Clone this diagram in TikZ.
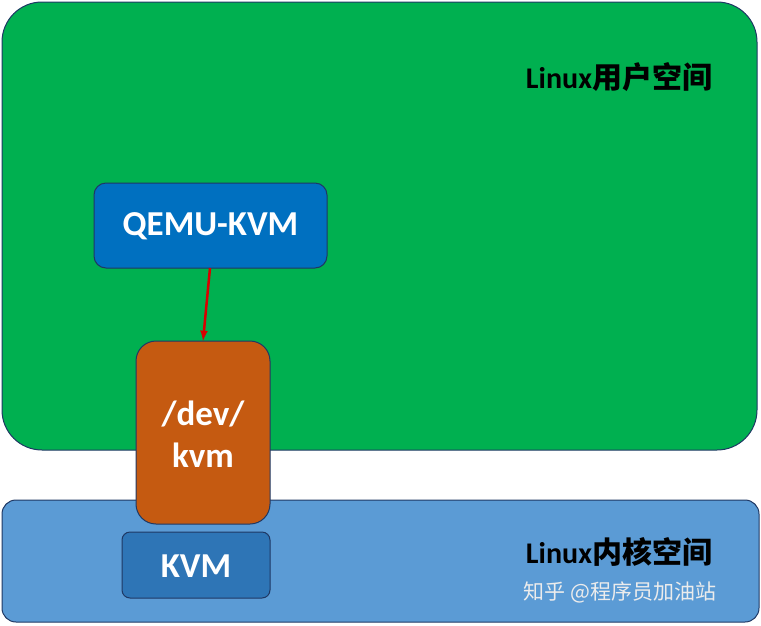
\documentclass[tikz,border=0pt]{standalone}
\usepackage{fontspec}
\setmainfont{Carlito}
\newfontfamily\cjk{Noto Sans CJK SC}
\usetikzlibrary{positioning}
\definecolor{usergreen}{HTML}{00B050}
\definecolor{kernblue}{HTML}{5B9BD5}
\definecolor{qemublue}{HTML}{0070C0}
\definecolor{devorange}{HTML}{C55A11}
\definecolor{kvmblue}{HTML}{2E75B6}
\definecolor{edgeblue}{HTML}{1F3864}
\tikzset{
  box/.style={draw=edgeblue, line width=1pt},
  lbl/.style={font=\bfseries\fontsize{35}{42}\selectfont, text=white, align=center},
  area/.style={font=\bfseries\fontsize{30}{34}\selectfont},
}
\begin{document}
\begin{tikzpicture}[x=1pt,y=-1pt]
    \useasboundingbox (0,0) rectangle (761,625);
    % spaces
    \filldraw[box, fill=usergreen, rounded corners=40pt] (2,2) rectangle (757,450);
    \filldraw[box, fill=kernblue, rounded corners=14pt] (2,500) rectangle (759,622);
    \node[area] (user) at (619,77) {Linux{\cjk 用户空间}};
    \node[area] (kern) at (619,552) {Linux{\cjk 内核空间}};
    % boxes
    \filldraw[box, fill=qemublue, rounded corners=12pt] (94,183) rectangle (327,268);
    \node[lbl] (qemu) at (210.5,226) {QEMU-KVM};
    \filldraw[box, fill=devorange, rounded corners=20pt] (136,341) rectangle (270,524);
    \node[lbl] (dev) at (203,434) {/dev/\\kvm};
    \filldraw[box, fill=kvmblue, rounded corners=8pt] (122,532) rectangle (270,598);
    \node[lbl] (kvm) at (196,566) {KVM};
    \coordinate (qbot) at (210,268);
    \coordinate (dtop) at (203,341);
    \draw[red!85!black, line width=2.5pt, -latex] (qbot) -- (dtop);
    % watermark
    \node[text=white!85!gray, font=\cjk\fontsize{21}{24}\selectfont] (mark) at (620,592) {知乎 @程序员加油站};
\end{tikzpicture}
\end{document}
